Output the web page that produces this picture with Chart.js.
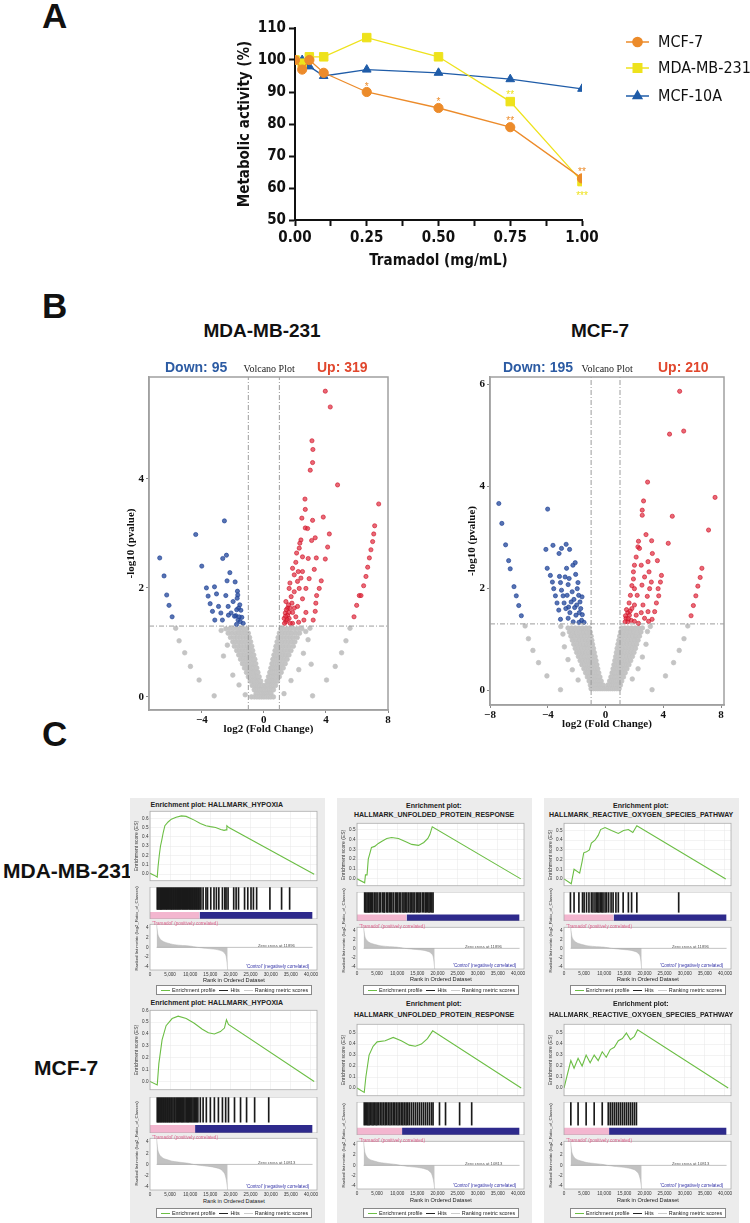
<!DOCTYPE html>
<html>
<head>
<meta charset="utf-8">
<title>Tramadol figure</title>
<script src="https://cdn.jsdelivr.net/npm/chart.js@4.4.1/dist/chart.umd.min.js"></script>
<style>
  html, body { margin: 0; padding: 0; background: #fff; }
  #page { position: relative; width: 750px; height: 1223px; overflow: hidden; font-family: "Liberation Sans", Arial, sans-serif; color: #111; }
  #page canvas { position: absolute; }
  .t { position: absolute; white-space: nowrap; line-height: 1; }
  .box { position: absolute; background: #ececec; }
  .lg span.ln { display: inline-block; width: 9px; height: 0; vertical-align: middle; margin: 0 2px 0 4px; }
</style>
</head>
<body>
<div id="page"></div>
<script>
// ---------- A: metabolic activity ----------
const doses = [0, 0.025, 0.05, 0.1, 0.25, 0.5, 0.75, 1.0];
const mcf7Activity = [100, 97, 100, 96, 90, 85, 79, 63];
const mda231Activity = [100, 99, 101, 101, 107, 101, 87, 62];
const mcf10aActivity = [100, 100, 98, 95, 97, 96, 94, 91];
const doseLabels = [0, 0.25, 0.5, 0.75, 1.0];
// significance marks: [dose, height, label]
const mcf7Stars = [[0.25, 92.4, '*'], [0.5, 87.8, '*'], [0.75, 81.8, '**'], [1.0, 65.8, '**']];
const mda231Stars = [[0.75, 89.9, '**'], [1.0, 58.4, '***']];

// ---------- B: volcano plots ----------
const foldCut = [-1, 1];
const pCut = 1.3;
const mdaTicksX = [-4, 0, 4, 8];
const mdaTicksY = [0, 2, 4];
const mcfTicksX = [-8, -4, 0, 4, 8];
const mcfTicksY = [0, 2, 4, 6];

const mdaDown = [[-6.71,2.55],[-6.43,2.22],[-6.26,1.87],[-6.11,1.68],[-5.91,1.47],[-4.39,2.98],[-4.0,2.40],[-3.70,2.0],
  [-3.59,1.85],[-3.46,1.71],[-3.31,1.57],[-3.18,2.02],[-3.16,1.41],[-3.05,1.89],[-2.92,1.66],[-2.77,1.54],[-2.65,2.54],
  [-2.54,3.23],[-2.41,2.60],[-2.45,1.86],[-2.67,1.41],[-2.37,2.13],[-2.30,1.66],[-2.19,2.28],[-2.11,1.54],[-1.98,1.75],
  [-1.85,2.11],[-1.81,1.49],[-1.76,1.33],[-1.70,1.94],[-1.68,1.87],[-1.63,1.63],[-1.55,1.69],[-1.48,1.59],[-1.42,1.46],
  [-1.33,1.35],[-1.72,1.81],[-1.89,1.48],[-1.59,1.47],[-2.28,1.50],[-1.66,1.41],[-1.52,1.38],[-1.75,1.60]];
const mdaUp = [[3.96,5.61],[4.28,5.32],[3.10,4.70],[3.16,4.54],[3.14,4.30],[2.99,4.16],[4.75,3.89],[7.40,3.54],[2.65,3.63],
  [2.67,3.44],[3.83,3.30],[3.14,3.24],[2.45,3.28],[2.67,3.10],[2.82,3.09],[4.22,2.99],[7.14,3.14],[7.08,2.99],[7.01,2.85],
  [3.31,2.92],[3.08,2.87],[2.39,2.88],[2.28,2.73],[4.11,2.75],[6.90,2.70],[6.80,2.55],[3.96,2.53],[3.38,2.55],[2.86,2.54],
  [2.06,2.47],[6.69,2.38],[3.25,2.34],[2.49,2.30],[1.85,2.36],[6.58,2.21],[3.70,2.13],[2.92,2.17],[2.17,2.12],[1.68,2.09],
  [6.43,2.04],[3.57,1.99],[2.71,1.99],[1.96,1.93],[1.63,1.99],[6.15,1.86],[6.26,1.86],[3.40,1.86],[2.49,1.80],[1.76,1.84],
  [1.42,1.75],[5.98,1.68],[3.35,1.72],[2.17,1.66],[1.53,1.63],[3.31,1.57],[2.71,1.55],[1.85,1.55],[1.38,1.54],[5.81,1.47],
  [3.18,1.41],[2.58,1.41],[2.24,1.37],[1.63,1.44],[1.42,1.38],[1.33,1.35],[1.85,1.35],[1.31,1.44],[1.53,1.50],[1.68,1.63],
  [1.59,1.69],[1.81,1.72],[1.96,1.63],[2.06,1.47],[1.70,1.35],[2.28,1.99],[2.39,2.18],[2.22,2.30],[1.96,2.24],[2.11,2.64],
  [2.32,2.82],[2.49,2.57],[1.45,1.60],[1.50,1.42],[1.40,1.48],[1.62,1.55]];
// grey (not significant) cloud, listed row by row: [-log10 p, fold changes]
const mdaNsRows = [
  [1.25, [-2.45,-2.2,-1.95,-1.7,-1.5,-1.3,-1.1, 1.1,1.3,1.5,1.7,1.95,2.2,2.45]],
  [1.17, [-2.3,-2.05,-1.8,-1.6,-1.4,-1.2,-1.0, 1.0,1.2,1.4,1.6,1.8,2.05,2.3]],
  [1.09, [-2.15,-1.9,-1.7,-1.5,-1.3,-1.1,-0.92, 0.92,1.1,1.3,1.5,1.7,1.9,2.15]],
  [1.01, [-2.0,-1.8,-1.6,-1.4,-1.2,-1.0,-0.85, 0.85,1.0,1.2,1.4,1.6,1.8,2.0]],
  [0.93, [-1.9,-1.65,-1.45,-1.25,-1.05,-0.9,-0.78, 0.78,0.9,1.05,1.25,1.45,1.65,1.9]],
  [0.85, [-1.75,-1.55,-1.35,-1.15,-0.98,-0.84,-0.72, 0.72,0.84,0.98,1.15,1.35,1.55,1.75]],
  [0.77, [-1.62,-1.42,-1.24,-1.06,-0.9,-0.76,-0.65, 0.65,0.76,0.9,1.06,1.24,1.42,1.62]],
  [0.69, [-1.5,-1.3,-1.12,-0.96,-0.82,-0.7,-0.58, 0.58,0.7,0.82,0.96,1.12,1.3,1.5]],
  [0.61, [-1.38,-1.2,-1.02,-0.88,-0.74,-0.62,-0.52, 0.52,0.62,0.74,0.88,1.02,1.2,1.38]],
  [0.53, [-1.25,-1.08,-0.92,-0.78,-0.66,-0.55,-0.45, 0.45,0.55,0.66,0.78,0.92,1.08,1.25]],
  [0.45, [-1.12,-0.96,-0.82,-0.7,-0.58,-0.47,-0.38, 0.38,0.47,0.58,0.7,0.82,0.96,1.12]],
  [0.37, [-1.0,-0.85,-0.72,-0.6,-0.49,-0.4,-0.3, 0.3,0.4,0.49,0.6,0.72,0.85,1.0]],
  [0.29, [-0.88,-0.74,-0.62,-0.5,-0.4,-0.3,-0.2, 0.2,0.3,0.4,0.5,0.62,0.74,0.88]],
  [0.21, [-0.75,-0.62,-0.5,-0.39,-0.28,-0.18,-0.08, 0.08,0.18,0.28,0.39,0.5,0.62,0.75]],
  [0.13, [-0.62,-0.5,-0.38,-0.27,-0.16,-0.05, 0.05,0.16,0.27,0.38,0.5,0.62]],
  [0.06, [-0.5,-0.38,-0.26,-0.14,-0.02, 0.1,0.22,0.34,0.46]],
  [0.0,  [-0.8,-0.62,-0.45,-0.3,-0.15,0,0.15,0.3,0.45,0.62]]
];
const mdaNsExtra = [[-5.68,1.26],[-5.46,1.03],[-5.10,0.81],[-4.73,0.56],[-4.17,0.31],[-3.2,0.02],[5.55,1.26],[5.29,1.03],
  [5.01,0.81],[4.6,0.56],[4.04,0.31],[3.14,0.02],[2.97,1.26],[-2.75,1.22],[-2.6,0.75],[-2.35,0.95],[-2.0,0.4],[-1.6,0.22],
  [-1.2,0.04],[2.7,1.2],[2.85,1.05],[2.55,0.8],[2.25,0.5],[1.75,0.3],[1.3,0.06],[3.05,0.6]];

const mcfDown = [[-7.39,3.66],[-7.18,3.27],[-6.92,2.85],[-6.71,2.54],[-6.60,2.38],[-6.34,2.03],[-6.18,1.85],[-6.01,1.66],
  [-5.83,1.46],[-4.01,3.55],[-4.13,2.76],[-3.64,2.84],[-3.05,2.78],[-2.73,2.86],[-2.49,2.76],[-3.22,2.68],[-4.04,2.39],
  [-3.82,2.25],[-3.68,2.12],[-3.59,1.99],[-3.47,1.85],[-3.36,1.71],[-3.24,1.57],[-3.12,1.39],[-3.19,2.23],[-3.12,2.11],
  [-3.05,1.96],[-2.94,1.85],[-2.87,1.71],[-2.70,2.39],[-2.80,2.22],[-2.52,2.19],[-2.59,2.07],[-2.66,1.86],[-2.56,1.63],
  [-2.47,1.52],[-2.59,1.41],[-2.26,2.45],[-2.10,2.50],[-2.31,1.93],[-2.19,1.78],[-2.14,1.62],[-2.05,1.47],[-1.91,2.11],
  [-1.96,1.99],[-1.86,1.86],[-1.77,1.73],[-1.72,1.60],[-1.61,1.48],[-1.66,1.37],[-1.49,1.33],[-1.84,1.33],[-2.24,1.34],
  [-2.00,1.67],[-1.82,1.52],[-1.63,1.83],[-2.38,1.73],[-2.75,1.60],[-2.07,2.27]];
const mcfUp = [[5.13,5.86],[4.43,5.02],[5.41,5.08],[2.91,4.08],[2.63,3.71],[2.54,3.53],[2.54,3.43],[4.62,3.41],[7.58,3.78],
  [2.80,3.05],[2.28,2.92],[3.19,2.93],[4.34,2.88],[7.13,3.14],[2.24,2.81],[2.35,2.78],[3.24,2.68],[3.59,2.54],[6.67,2.39],
  [6.55,2.21],[6.39,2.04],[6.25,1.85],[6.08,1.66],[5.92,1.46],[3.87,2.25],[3.80,2.12],[3.64,1.99],[3.68,1.85],[3.52,1.71],
  [3.40,1.54],[3.22,1.39],[2.94,1.54],[2.70,1.41],[2.47,1.52],[2.59,1.67],[2.89,1.84],[3.05,1.99],[3.17,2.12],[2.94,2.52],
  [3.01,2.32],[2.70,2.22],[2.52,2.06],[2.47,2.45],[2.12,2.61],[2.00,2.45],[1.93,2.32],[1.93,2.18],[2.00,1.99],[2.19,1.86],
  [1.82,2.05],[1.72,1.86],[1.63,1.71],[1.82,1.60],[2.00,1.67],[2.12,1.47],[1.54,1.52],[1.42,1.41],[1.54,1.34],[1.77,1.37],
  [2.00,1.35],[1.35,1.34],[1.65,1.47],[2.28,1.31],[2.98,1.35],[1.45,1.58],[1.38,1.46],[1.58,1.40],[1.70,1.55]];
const mcfNsRows = [
  [1.22, [-2.6,-2.35,-2.1,-1.85,-1.6,-1.35,-1.12, 1.1,1.32,1.55,1.8,2.05,2.3,2.55]],
  [1.14, [-2.5,-2.25,-2.0,-1.75,-1.52,-1.3,-1.06, 1.04,1.26,1.5,1.72,1.95,2.2,2.45]],
  [1.06, [-2.4,-2.15,-1.9,-1.68,-1.45,-1.22,-1.0, 0.98,1.2,1.42,1.65,1.88,2.1,2.35]],
  [0.98, [-2.3,-2.05,-1.82,-1.6,-1.38,-1.16,-0.95, 0.92,1.13,1.35,1.57,1.8,2.02,2.25]],
  [0.90, [-2.2,-1.96,-1.74,-1.52,-1.3,-1.1,-0.9, 0.86,1.06,1.28,1.5,1.72,1.94,2.15]],
  [0.82, [-2.1,-1.87,-1.65,-1.44,-1.23,-1.03,-0.84, 0.8,1.0,1.2,1.42,1.63,1.85,2.07]],
  [0.74, [-2.0,-1.78,-1.56,-1.36,-1.16,-0.97,-0.78, 0.75,0.94,1.13,1.34,1.55,1.76,1.97]],
  [0.66, [-1.88,-1.67,-1.47,-1.27,-1.08,-0.9,-0.72, 0.7,0.87,1.06,1.26,1.46,1.66,1.86]],
  [0.58, [-1.76,-1.56,-1.37,-1.18,-1.0,-0.83,-0.66, 0.64,0.8,0.98,1.17,1.36,1.55,1.74]],
  [0.50, [-1.64,-1.45,-1.27,-1.1,-0.93,-0.76,-0.6, 0.58,0.74,0.9,1.08,1.26,1.44,1.62]],
  [0.42, [-1.5,-1.33,-1.16,-1.0,-0.84,-0.69,-0.54, 0.52,0.67,0.82,0.98,1.15,1.32,1.48]],
  [0.34, [-1.38,-1.22,-1.06,-0.91,-0.76,-0.61,-0.47, 0.45,0.6,0.74,0.89,1.04,1.2,1.36]],
  [0.26, [-1.26,-1.1,-0.95,-0.8,-0.66,-0.52,-0.39, 0.37,0.51,0.65,0.79,0.94,1.09,1.24]],
  [0.18, [-1.14,-0.98,-0.83,-0.69,-0.55,-0.42,-0.3, 0.28,0.41,0.54,0.68,0.82,0.97,1.12]],
  [0.10, [-1.05,-0.88,-0.72,-0.57,-0.43,-0.3,-0.17, 0.15,0.28,0.42,0.56,0.71,0.87,1.03]],
  [0.03, [-1.0,-0.84,-0.68,-0.53,-0.38,-0.24,-0.1,0.04,0.18,0.32,0.47,0.62,0.78,0.94]]
];
const mcfNsExtra = [[-5.57,1.26],[-5.34,1.01],[-5.03,0.78],[-4.64,0.54],[-4.06,0.28],[-3.12,0.01],[5.69,1.26],[5.43,1.01],
  [5.10,0.78],[4.71,0.54],[4.15,0.28],[3.22,0.01],[-2.95,1.1],[-2.85,0.85],[-2.6,0.6],[-2.3,0.4],[-1.9,0.2],[2.9,1.15],
  [2.8,0.9],[2.55,0.65],[2.25,0.42],[1.85,0.22],[-3.1,1.25],[3.1,1.25]];

// ---------- C: GSEA enrichment plots ----------
const rankTicks = [0, 5000, 10000, 15000, 20000, 25000, 30000, 35000, 40000];
const metricTicks = [-4, -2, 0, 2, 4];
const mdaMetricRank = [1650, 1800, 2000, 2500, 3300, 4500, 5700, 7500, 9800, 11896, 13900, 16300, 18000, 18800, 19100, 19300];
const mdaMetricValue = [4.6, 3.6, 2.5, 1.7, 1.2, 0.85, 0.6, 0.42, 0.28, 0, -0.2, -0.4, -0.8, -1.5, -2.8, -4.6];
const mcfMetricRank = [1650, 1800, 2000, 2500, 3300, 4500, 5700, 7500, 9500, 10813, 13000, 15500, 17500, 18500, 19000, 19300];
const mcfMetricValue = [4.6, 3.5, 2.4, 1.6, 1.1, 0.8, 0.55, 0.38, 0.2, 0, -0.22, -0.45, -0.85, -1.6, -2.9, -4.6];
const classSplit = [12300, 11200];   // end of 'Tramadol' class bar (row 1, row 2)
const listEnd = 40400;

const mdaHypoxiaES = [[0,0.01],[1000,-0.01],[1800,-0.03],[2000,0.08],[2300,0.2],[2600,0.3],[2900,0.36],[3300,0.45],[3700,0.52],
  [4500,0.56],[5300,0.59],[6500,0.61],[7800,0.625],[9000,0.62],[10000,0.6],[11000,0.58],[12500,0.545],[13900,0.52],
  [15000,0.51],[16300,0.5],[17600,0.48],[18400,0.47],[18900,0.475],[19100,0.52],[19600,0.5],[40800,0]];
const mdaHypoxiaHits = [1800,2000,2250,2500,2700,2900,3100,3400,3600,3900,4100,4300,4600,4800,5100,5300,5500,5800,6000,
  6300,6500,6800,7000,7300,7500,7800,8100,8300,8600,8800,9100,9300,9600,9900,10100,10400,10600,10900,11100,11400,11600,
  11900,12100,12400,12650,13200,13900,14300,15100,15900,16500,17100,18000,18600,18900,19400,20800,21400,22000,23500,
  24300,25100,25700,26500,29800,32700,34700];
const mdaUprES = [[0,0],[1900,-0.04],[2100,0.04],[2500,0.04],[2800,0.2],[3200,0.26],[3600,0.32],[4400,0.33],[5300,0.36],
  [6100,0.38],[7400,0.41],[8600,0.42],[10300,0.41],[12000,0.38],[13600,0.35],[15300,0.34],[16600,0.37],[17600,0.41],
  [18100,0.45],[18700,0.53],[40700,0]];
const mdaUprHits = [1900,2200,2500,2800,3000,3300,3600,3900,4300,4700,5000,5500,5900,6400,6700,6900,7400,7600,8000,8400,
  8600,9000,9500,9900,10100,10500,10900,11400,11700,12100,12400,12800,13200,13500,13900,14200,14700,15100,15400,15700,
  16200,16600,17000,17200,17600,17900,18200,18600,18900];
const mdaRosES = [[0,0],[1800,-0.05],[2500,0.1],[3900,0.06],[4500,0.18],[4900,0.27],[5600,0.28],[6300,0.3],[6800,0.37],
  [7700,0.4],[8500,0.45],[9100,0.51],[10200,0.53],[11800,0.5],[13500,0.47],[14800,0.5],[16000,0.51],[17100,0.48],
  [18100,0.55],[40200,0]];
const mdaRosHits = [1600,2500,3700,4600,5000,5600,6200,6800,7200,7700,8100,8400,8700,9100,9400,9700,10200,10600,11100,
  11700,12200,12900,13500,14700,16000,16800,18100,28500];
const mcfHypoxiaES = [[0,0],[1800,-0.03],[2200,0.15],[3000,0.35],[4000,0.47],[5500,0.53],[7000,0.55],[9000,0.53],
  [11000,0.49],[13000,0.44],[14500,0.41],[16000,0.4],[17500,0.42],[18500,0.45],[19000,0.52],[19500,0.48],[40800,0]];
const mcfHypoxiaHits = [1800,2000,2200,2450,2700,2900,3200,3400,3700,3900,4200,4400,4700,4900,5200,5400,5700,6000,6200,
  6500,6800,7000,7300,7600,7900,8100,8400,8700,9000,9300,9500,9800,10100,10400,10700,11000,11300,11600,11900,12500,
  13200,14000,15000,16000,17000,18000,18800,19500,21000,22500,24000,26000,29500];
const mcfUprES = [[0,0],[1800,-0.04],[2200,0.1],[3000,0.3],[4000,0.38],[5000,0.42],[7000,0.43],[9000,0.46],[11000,0.43],
  [13000,0.39],[14500,0.38],[16000,0.4],[17500,0.45],[18800,0.52],[40800,0]];
const mcfUprHits = [1800,2100,2400,2700,3000,3300,3700,4000,4300,4700,5000,5400,5800,6200,6600,7000,7400,7800,8200,8600,
  9000,9400,9800,10200,10600,11000,11400,11800,12200,12600,13000,13500,14000,14500,15000,15500,16000,16500,17000,17500,
  18000,18500,18900,20500,22000,25500,28500];
const mcfRosES = [[0,0],[1700,0.25],[2500,0.18],[3500,0.27],[4500,0.2],[5500,0.3],[6500,0.23],[7500,0.3],[8500,0.25],
  [9500,0.33],[10500,0.28],[11500,0.35],[12500,0.37],[13500,0.43],[14500,0.45],[15500,0.5],[16500,0.44],[17500,0.47],
  [18300,0.53],[40800,0]];
const mcfRosHits = [1700,3500,5500,7500,9500,11000,11500,12000,12500,13000,13500,14000,14500,15000,15500,16000,16500,
  17000,17500,18000];
const gseaTitles = [
  ['Enrichment plot: HALLMARK_HYPOXIA'],
  ['Enrichment plot:', 'HALLMARK_UNFOLDED_PROTEIN_RESPONSE'],
  ['Enrichment plot:', 'HALLMARK_REACTIVE_OXYGEN_SPECIES_PATHWAY']
];
const zeroCross = ['Zero cross at 11896', 'Zero cross at 10813'];

// ---------------------------------------------------------------
const page = document.getElementById('page');
const SANS = '"Liberation Sans", Arial, sans-serif';
const NARROW = '"Liberation Sans Narrow", "DejaVu Sans Condensed", Arial, sans-serif';
const SERIF = '"Liberation Serif", "Times New Roman", serif';

Chart.defaults.animation = false;
Chart.defaults.responsive = false;
Chart.defaults.plugins.legend.display = false;
Chart.defaults.plugins.tooltip.enabled = false;
Chart.defaults.font.family = SANS;

function addCanvas(x, y, w, h) {
  const c = document.createElement('canvas');
  c.width = w; c.height = h;
  c.style.left = x + 'px'; c.style.top = y + 'px';
  c.style.width = w + 'px'; c.style.height = h + 'px';
  page.appendChild(c);
  return c;
}

// place text; (x, y) is the anchor, y = middle of the line
function addText(str, x, y, css, align = 'left') {
  const d = document.createElement('div');
  d.className = 't';
  d.textContent = str;
  Object.assign(d.style, css);
  page.appendChild(d);
  const w = d.offsetWidth, h = d.offsetHeight;
  let left = x;
  if (align === 'center') left = x - w / 2;
  if (align === 'right') left = x - w;
  d.style.left = left + 'px';
  d.style.top = (y - h / 2) + 'px';
  return d;
}
function addVText(str, cx, cy, css) {
  const d = addText(str, cx, cy, css, 'center');
  d.style.transform = 'rotate(-90deg)';
  return d;
}

const toXY = arr => arr.map(([x, y]) => ({ x, y }));
const pairs = (xs, ys) => xs.map((x, i) => ({ x, y: ys[i] }));
const fixedTicks = list => s => { s.ticks = list.map(value => ({ value })); };

// panel letters and row labels
const letterCss = { font: `bold 35px ${SANS}`, color: '#111' };
addText('A', 42, 16, letterCss);
addText('B', 42, 306, letterCss);
addText('C', 42, 734, letterCss);

// ================= Panel A =================
const ORANGE = '#EC8B2A', YELLOW = '#EEE21C', BLUE = '#1F5CA8';
const aSeries = [
  { label: 'MCF-7', values: mcf7Activity, color: ORANGE, style: 'circle', r: 4.6 },
  { label: 'MDA-MB-231', values: mda231Activity, color: YELLOW, style: 'rect', r: 6 },
  { label: 'MCF-10A', values: mcf10aActivity, color: BLUE, style: 'triangle', r: 5 }
];

const starPlugin = {
  id: 'stars',
  afterDatasetsDraw(chart) {
    const { ctx, scales: { x, y } } = chart;
    ctx.save();
    ctx.font = `10px ${SANS}`;
    ctx.textAlign = 'center';
    ctx.textBaseline = 'middle';
    [[mcf7Stars, ORANGE], [mda231Stars, YELLOW]].forEach(([marks, color]) => {
      ctx.fillStyle = color;
      marks.forEach(([d, v, s]) => ctx.fillText(s, x.getPixelForValue(d), y.getPixelForValue(v) + 3));
    });
    ctx.restore();
  }
};

const legendPlugin = {
  id: 'sideLegend',
  afterDraw(chart) {
    const ctx = chart.ctx;
    ctx.save();
    aSeries.forEach((s, i) => {
      const y = [42, 68, 96][i];
      ctx.strokeStyle = s.color;
      ctx.fillStyle = s.color;
      ctx.lineWidth = 1.5;
      ctx.beginPath(); ctx.moveTo(626, y); ctx.lineTo(649, y); ctx.stroke();
      Chart.helpers.drawPoint(ctx, { pointStyle: s.style, radius: s.r, borderWidth: 1, rotation: 0 }, 637.5, y);
      ctx.fillStyle = '#111';
      ctx.font = `16px ${NARROW}`;
      ctx.textBaseline = 'middle';
      ctx.fillText(s.label, 658, y + 1);
    });
    ctx.restore();
  }
};

new Chart(addCanvas(0, 0, 750, 290), {
  type: 'line',
  data: {
    datasets: aSeries.map(s => ({
      label: s.label,
      data: pairs(doses, s.values),
      borderColor: s.color,
      backgroundColor: s.color,
      borderWidth: 1.3,
      pointStyle: s.style,
      pointRadius: s.r,
      pointBorderWidth: 1,
      tension: 0
    }))
  },
  options: {
    layout: { padding: { left: 230, top: 28, right: 168, bottom: 18 } },
    scales: {
      x: {
        type: 'linear', min: 0, max: 1,
        afterBuildTicks: s => { s.ticks = [0, 0.125, 0.25, 0.375, 0.5, 0.625, 0.75, 0.875, 1].map(value => ({ value })); },
        ticks: {
          autoSkip: false, maxRotation: 0, padding: 3, color: '#111',
          font: { family: NARROW, size: 15, weight: 'bold' },
          callback: v => doseLabels.includes(v) ? v.toFixed(2) : ''
        },
        grid: { drawOnChartArea: false, tickLength: 6, tickColor: '#111', tickWidth: 2 },
        border: { color: '#111', width: 2 },
        title: { display: true, text: 'Tramadol (mg/mL)', color: '#111', font: { family: NARROW, size: 15, weight: 'bold' }, padding: { top: 0, bottom: 2 } },
        afterFit: s => { s.height = 52; }
      },
      y: {
        min: 50, max: 110,
        ticks: { stepSize: 10, padding: 3, color: '#111', font: { family: NARROW, size: 15, weight: 'bold' } },
        grid: { drawOnChartArea: false, tickLength: 6, tickColor: '#111', tickWidth: 2 },
        border: { color: '#111', width: 2 },
        title: { display: true, text: 'Metabolic activity (%)', color: '#111', font: { family: NARROW, size: 15, weight: 'bold' }, padding: { top: 6, bottom: 0 } },
        afterFit: s => { s.width = 65; }
      }
    }
  },
  plugins: [starPlugin, legendPlugin]
});

// ================= Panel B =================
const framePlugin = color => ({
  id: 'frame',
  afterDraw(chart) {
    const { ctx, chartArea: a } = chart;
    ctx.save();
    ctx.strokeStyle = color;
    ctx.lineWidth = 1.5;
    ctx.strokeRect(a.left, a.top, a.right - a.left, a.bottom - a.top);
    ctx.restore();
  }
});

function volcano(cv, o) {
  const cut = { borderColor: '#9c9c9c', borderWidth: 1, borderDash: [5, 2, 1, 2], pointRadius: 0, showLine: true, fill: false };
  const dot = (color, fill, r) => ({ pointRadius: r, pointBorderWidth: 0.7, borderColor: color, backgroundColor: fill, showLine: false });
  const ns = o.nsRows.flatMap(([y, xs]) => xs.map(x => ({ x, y }))).concat(toXY(o.nsExtra));
  new Chart(cv, {
    type: 'scatter',
    data: {
      datasets: [
        ...foldCut.map(c => Object.assign({ data: [{ x: c, y: o.yMin }, { x: c, y: o.yMax }] }, cut)),
        Object.assign({ data: [{ x: o.xMin, y: pCut }, { x: o.xMax, y: pCut }] }, cut),
        Object.assign({ data: toXY(o.up) }, dot('rgba(205,20,40,0.9)', 'rgba(225,40,60,0.7)', 2.1)),
        Object.assign({ data: toXY(o.down) }, dot('rgba(30,65,150,0.95)', 'rgba(45,80,160,0.8)', 2.1)),
        Object.assign({ data: ns }, dot('#c2c2c2', '#c4c4c4', 2.3))
      ]
    },
    options: {
      layout: { padding: o.pad },
      scales: {
        x: {
          type: 'linear', min: o.xMin, max: o.xMax,
          afterBuildTicks: fixedTicks(o.xTicks),
          ticks: { color: '#111', padding: 1, font: { family: SERIF, size: 11, weight: 'bold' }, callback: v => v < 0 ? '\u2212' + Math.abs(v) : String(v) },
          grid: { drawOnChartArea: false, tickLength: 3, tickColor: '#888' },
          border: { color: '#a0a0a0', width: 1.5 },
          title: { display: true, text: 'log2 (Fold Change)', color: '#111', font: { family: SERIF, size: 11, weight: 'bold' }, padding: { top: 0, bottom: 2 } },
          afterFit: s => { s.height = 28; }
        },
        y: {
          min: o.yMin, max: o.yMax,
          afterBuildTicks: fixedTicks(o.yTicks),
          ticks: { color: '#111', padding: 2, font: { family: SERIF, size: 11, weight: 'bold' } },
          grid: { drawOnChartArea: false, tickLength: 3, tickColor: '#888' },
          border: { color: '#a0a0a0', width: 1.5 },
          title: { display: true, text: '-log10 (pvalue)', color: '#111', font: { family: SERIF, size: 11, weight: 'bold' }, padding: { top: 1, bottom: 0 } },
          afterFit: s => { s.width = 25; }
        }
      }
    },
    plugins: [framePlugin('#a0a0a0')]
  });
}

volcano(addCanvas(100, 360, 300, 390), {
  up: mdaUp, down: mdaDown, nsRows: mdaNsRows, nsExtra: mdaNsExtra,
  xMin: -7.4, xMax: 8, yMin: -0.24, yMax: 5.87, xTicks: mdaTicksX, yTicks: mdaTicksY,
  pad: { left: 24, top: 17, right: 12, bottom: 12 }
});
volcano(addCanvas(440, 360, 300, 390), {
  up: mcfUp, down: mcfDown, nsRows: mcfNsRows, nsExtra: mcfNsExtra,
  xMin: -8, xMax: 8.2, yMin: -0.29, yMax: 6.14, xTicks: mcfTicksX, yTicks: mcfTicksY,
  pad: { left: 25, top: 17, right: 16, bottom: 17 }
});

const titleCss = { font: `bold 19px ${SANS}`, color: '#111' };
addText('MDA-MB-231', 262, 331, titleCss, 'center');
addText('MCF-7', 600, 331, titleCss, 'center');
const downCss = { font: `bold 14px ${SANS}`, color: '#2C5BA3' };
const upCss = { font: `bold 14px ${SANS}`, color: '#E1472D' };
const vpCss = { font: `10px ${SERIF}`, color: '#222' };
addText('Down: 95', 165, 367, downCss);
addText('Volcano Plot', 269, 368, vpCss, 'center');
addText('Up: 319', 368, 367, upCss, 'right');
addText('Down: 195', 503, 367, downCss);
addText('Volcano Plot', 607, 368, vpCss, 'center');
addText('Up: 210', 709, 367, upCss, 'right');

// ================= Panel C =================
const rowLabelCss = { font: `bold 21px ${SANS}`, color: '#111' };
addText('MDA-MB-231', 68, 871, rowLabelCss, 'center');
addText('MCF-7', 66, 1068, rowLabelCss, 'center');

const GREEN = '#6CBE45', PINK = '#F3B6CF', NAVY = '#2E2A8C';
const gseaColLeft = [130, 337, 544];
const gseaTitleX = [217, 434, 641];
const gseaRowTop = [798, 996];
const gseaRowScale = [1, 1.13];
const BOX_W = 195, AXIS_W = 20, PAD_R = 8, BOX_H = 201;
const GEOM = [
  { esTop: 9, esBot: 87, hitTop: 89, hitBot: 121, rankTop: 122, rankBot: 172 },
  { esTop: 21, esBot: 92, hitTop: 94, hitBot: 123, rankTop: 125, rankBot: 171 }
];
const tiny = { family: SANS, size: 4.6 };

const plotBg = {
  id: 'plotBg',
  beforeDraw(chart) {
    const { ctx, chartArea: a } = chart;
    ctx.save(); ctx.fillStyle = '#fff';
    ctx.fillRect(a.left, a.top, a.right - a.left, a.bottom - a.top);
    ctx.restore();
  },
  afterDraw(chart) {
    const { ctx, chartArea: a } = chart;
    ctx.save(); ctx.strokeStyle = '#a4a4a4'; ctx.lineWidth = 0.7;
    ctx.strokeRect(a.left, a.top, a.right - a.left, a.bottom - a.top);
    ctx.restore();
  }
};

function xHidden(withGrid) {
  return {
    type: 'linear', min: 0, max: 41500,
    afterBuildTicks: fixedTicks(rankTicks),
    ticks: { display: false },
    grid: { display: withGrid, drawTicks: false, color: '#e6e6e6', lineWidth: 0.5 },
    border: { display: false },
    afterFit: s => { s.height = 0; }
  };
}

function gsea(col, row, es, hits, esMax, metricRank, metricValue) {
  const s = gseaRowScale[row];
  const bx = gseaColLeft[col], by = gseaRowTop[row];
  const title = gseaTitles[col];
  const g = GEOM[title.length - 1];
  const v = n => Math.round(by + n * s);

  const box = document.createElement('div');
  box.className = 'box';
  Object.assign(box.style, { left: bx + 'px', top: by + 'px', width: BOX_W + 'px', height: Math.round(BOX_H * s) + 'px' });
  page.appendChild(box);

  const tCss = { font: `bold 7px ${SANS}`, color: '#222' };
  title.forEach((line, i) => addText(line, gseaTitleX[col], by + (title.length === 1 ? 6 : 7 + i * 9) * s, tCss, 'center'));

  const esTicks = [0, 0.1, 0.2, 0.3, 0.4, 0.5, 0.6].filter(t => t <= esMax);
  const layout = { padding: { left: 0, right: PAD_R, top: 0, bottom: 0 } };

  // running enrichment score
  new Chart(addCanvas(bx, v(g.esTop), BOX_W, v(g.esBot) - v(g.esTop)), {
    type: 'line',
    data: { datasets: [{ data: toXY(es), borderColor: GREEN, borderWidth: 1.1, pointRadius: 0, tension: 0 }] },
    options: {
      layout,
      scales: {
        x: xHidden(true),
        y: {
          min: -0.07, max: esMax,
          afterBuildTicks: fixedTicks(esTicks),
          ticks: { font: tiny, color: '#333', padding: 1.5, callback: t => t.toFixed(1) },
          grid: { drawTicks: false, color: '#e6e6e6', lineWidth: 0.5 },
          border: { display: false },
          afterFit: sc => { sc.width = AXIS_W; }
        }
      }
    },
    plugins: [plotBg]
  });

  // hits and class bar
  const split = classSplit[row];
  new Chart(addCanvas(bx, v(g.hitTop), BOX_W, v(g.hitBot) - v(g.hitTop)), {
    type: 'bar',
    data: {
      datasets: [
        { type: 'bar', data: hits.map(h => ({ x: h, y: [0.3, 1] })), backgroundColor: '#1a1a1a', barThickness: 1 },
        { type: 'line', data: [{ x: 0, y: 0.22 }, { x: split, y: 0.22 }], fill: 'origin', backgroundColor: PINK, borderWidth: 0, pointRadius: 0 },
        { type: 'line', data: [{ x: split, y: 0.22 }, { x: listEnd, y: 0.22 }], fill: 'origin', backgroundColor: NAVY, borderWidth: 0, pointRadius: 0 }
      ]
    },
    options: {
      layout,
      scales: {
        x: Object.assign(xHidden(false), { offset: false }),
        y: {
          min: 0, max: 1,
          ticks: { display: false }, grid: { display: false, drawTicks: false }, border: { display: false },
          afterFit: sc => { sc.width = AXIS_W; }
        }
      }
    },
    plugins: [plotBg]
  });

  // ranked list metric
  const rankH = v(g.rankBot) - v(g.rankTop);
  const axisH = 8;
  new Chart(addCanvas(bx, v(g.rankTop), BOX_W, rankH + axisH), {
    type: 'line',
    data: {
      datasets: [
        { data: [{ x: metricRank[0], y: 0 }, { x: listEnd, y: 0 }], borderColor: '#9a9a9a', borderWidth: 0.6, pointRadius: 0 },
        { data: pairs(metricRank, metricValue), borderColor: '#b4b4b4', borderWidth: 0.5, backgroundColor: '#c2c2c2', fill: 'origin', pointRadius: 0, tension: 0.25 }
      ]
    },
    options: {
      layout,
      scales: {
        x: {
          type: 'linear', min: 0, max: 41500,
          afterBuildTicks: fixedTicks(rankTicks),
          ticks: { font: tiny, color: '#333', padding: 1.5, maxRotation: 0, autoSkip: false, callback: t => t.toLocaleString('en-US') },
          grid: { display: false, drawTicks: false },
          border: { display: false },
          afterFit: sc => { sc.height = axisH; }
        },
        y: {
          min: -4.6, max: 4.7,
          afterBuildTicks: fixedTicks(metricTicks),
          ticks: { font: tiny, color: '#333', padding: 1.5 },
          grid: { display: false, drawTicks: false },
          border: { display: false },
          afterFit: sc => { sc.width = AXIS_W; }
        }
      }
    },
    plugins: [plotBg]
  });

  // labels inside the GSEA box
  const px = bx + AXIS_W;
  addText('Rank in Ordered Dataset', px + 84, v(g.rankBot) + 9.5 * s, { font: `5.6px ${SANS}`, color: '#222' }, 'center');
  addVText('Enrichment score (ES)', bx + 6, (v(g.esTop) + v(g.esBot)) / 2, { font: `5px ${SANS}`, color: '#333' });
  addVText('Ranked list metric (log2_Ratio_of_Classes)', bx + 6, (v(g.hitTop) + v(g.rankBot)) / 2, { font: `4.4px ${SANS}`, color: '#333' });
  addText("'Tramadol' (positively correlated)", px + 2, v(g.rankTop) + 3, { font: `4.6px ${SANS}`, color: '#E0648F' });
  addText(zeroCross[row], px + 108, v(g.rankTop) + (v(g.rankBot) - v(g.rankTop)) * 0.5, { font: `4.2px ${SANS}`, color: '#555' });
  addText("'Control' (negatively correlated)", px + 96, v(g.rankBot) - 4, { font: `4.6px ${SANS}`, color: '#3535A8' });

  // legend
  const lg = document.createElement('div');
  lg.className = 't lg';
  Object.assign(lg.style, { font: `5.4px ${SANS}`, color: '#222', background: '#fff', border: '0.6px solid #888', padding: '1px 3px 1px 0' });
  lg.innerHTML = `<span class="ln" style="border-top:1.2px solid ${GREEN}"></span>Enrichment profile` +
    `<span class="ln" style="border-top:1px solid #222"></span>Hits` +
    `<span class="ln" style="border-top:1px solid #ccc"></span>Ranking metric scores`;
  page.appendChild(lg);
  lg.style.left = (px + 84 - lg.offsetWidth / 2) + 'px';
  lg.style.top = (by + 192 * s - lg.offsetHeight / 2) + 'px';
}

gsea(0, 0, mdaHypoxiaES, mdaHypoxiaHits, 0.675, mdaMetricRank, mdaMetricValue);
gsea(1, 0, mdaUprES, mdaUprHits, 0.565, mdaMetricRank, mdaMetricValue);
gsea(2, 0, mdaRosES, mdaRosHits, 0.575, mdaMetricRank, mdaMetricValue);
gsea(0, 1, mcfHypoxiaES, mcfHypoxiaHits, 0.6, mcfMetricRank, mcfMetricValue);
gsea(1, 1, mcfUprES, mcfUprHits, 0.58, mcfMetricRank, mcfMetricValue);
gsea(2, 1, mcfRosES, mcfRosHits, 0.58, mcfMetricRank, mcfMetricValue);
</script>
</body>
</html>
